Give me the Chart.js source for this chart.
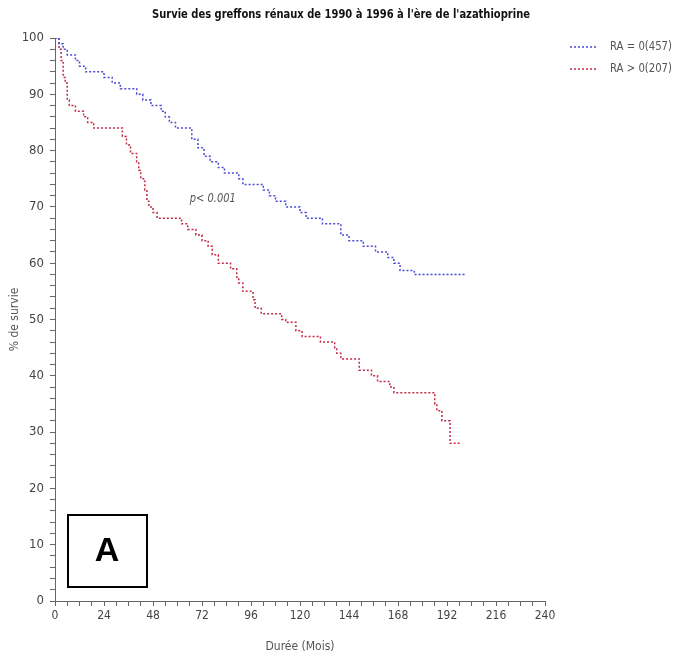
<!DOCTYPE html>
<html>
<head>
<meta charset="utf-8">
<script src="https://cdn.jsdelivr.net/npm/chart.js@4.4.1/dist/chart.umd.min.js"></script>
<style>
  body { margin: 0; background: #fff; }
  #wrap { width: 675px; height: 654px; }
</style>
</head>
<body>
<div id="wrap"><canvas id="survie"></canvas></div>
<script>
const titleText = "Survie des greffons rénaux de 1990 à 1996 à l'ère de l'azathioprine";
const seriesLabels = ['RA = 0(457)', 'RA > 0(207)'];
const seriesColors = ['#4b4bd6', '#c22a45'];

// RA = 0 : mois / % de survie (escalier)
const blueMonths = [0, 2, 4, 6, 10, 12, 15, 24, 28, 32, 40, 43, 47, 52, 54, 56, 59, 67, 70, 73, 76, 80, 83, 90, 92, 102, 105, 108, 113, 120, 123, 131, 140, 144, 151, 157, 163, 166, 169, 176, 201];
const blueSurvival = [100, 99, 98, 97, 96, 95, 94, 93, 92, 91, 90, 89, 88, 87, 86, 85, 84, 82, 80.5, 79, 78, 77, 76, 75, 74, 73, 72, 71, 70, 69, 68, 67, 65, 64, 63, 62, 61, 60, 58.7, 58, 58];

// RA > 0
const redMonths = [0, 2, 3, 4, 5, 6, 7, 10, 14, 16, 19, 33, 35, 37, 40, 41, 42, 44, 45, 46, 48, 50, 62, 65, 69, 72, 75, 77, 80, 86, 89, 90, 92, 97, 98, 101, 111, 113, 118, 121, 130, 137, 138, 140, 149, 155, 158, 164, 166, 186, 187, 189.5, 193.5, 199];
const redSurvival = [100, 98, 96, 93, 92, 89, 88, 87, 86, 85, 84, 82.5, 81, 79.5, 78, 76.5, 75, 73, 71, 70, 69, 68, 67, 66, 65, 64, 63, 61.5, 60, 59, 57.5, 56.5, 55, 53.5, 52, 51, 50, 49.5, 48, 47, 46, 45, 44, 43, 41, 40, 39, 38, 37, 35, 33.8, 32, 28, 28];

const xMajor = 24;
const yMajor = 10;

const narrow = "'Liberation Sans Narrow', 'DejaVu Sans Condensed', sans-serif";

function toPoints(xs, ys) {
  return xs.map((x, i) => ({ x: x, y: ys[i] }));
}

// titre, legende, p et encadre A (texte serre avec maxWidth pour imiter la police etroite)
const extras = {
  id: 'extras',
  afterDraw(chart) {
    const ctx = chart.ctx;
    const xs = chart.scales.x, ys = chart.scales.y;
    const area = chart.chartArea;
    ctx.save();
    ctx.textBaseline = 'middle';

    ctx.font = 'bold 13px ' + narrow;
    ctx.fillStyle = '#111';
    ctx.textAlign = 'center';
    ctx.fillText(titleText, 341, 15, 378);

    ctx.textAlign = 'left';
    ctx.font = '13px ' + narrow;
    seriesLabels.forEach((lab, i) => {
      const y = 47 + i * 22;
      ctx.strokeStyle = seriesColors[i];
      ctx.lineWidth = 1.5;
      ctx.setLineDash([2, 2]);
      ctx.beginPath();
      ctx.moveTo(570, y);
      ctx.lineTo(598, y);
      ctx.stroke();
      ctx.setLineDash([]);
      ctx.fillStyle = '#555';
      ctx.fillText(lab, 610, y, 62);
    });

    ctx.font = 'italic 12px ' + narrow;
    ctx.fillStyle = '#555';
    ctx.fillText('p< 0.001', xs.getPixelForValue(66), ys.getPixelForValue(71.5), 46);

    ctx.strokeStyle = '#000';
    ctx.lineWidth = 2;
    ctx.strokeRect(area.left + 13, area.bottom - 86, 79, 72);
    ctx.font = 'bold 34px Arial, "Liberation Sans", sans-serif';
    ctx.fillStyle = '#000';
    ctx.textAlign = 'center';
    ctx.fillText('A', area.left + 52, area.bottom - 49);
    ctx.restore();
  }
};

new Chart(document.getElementById('survie'), {
  type: 'line',
  data: {
    datasets: [
      {
        label: seriesLabels[0],
        data: toPoints(blueMonths, blueSurvival),
        borderColor: seriesColors[0],
        borderWidth: 1.5,
        borderDash: [2, 2],
        stepped: true,
        pointRadius: 0,
        fill: false
      },
      {
        label: seriesLabels[1],
        data: toPoints(redMonths, redSurvival),
        borderColor: seriesColors[1],
        borderWidth: 1.5,
        borderDash: [2, 2],
        stepped: true,
        pointRadius: 0,
        fill: false
      }
    ]
  },
  options: {
    responsive: true,
    maintainAspectRatio: false,
    animation: false,
    layout: { padding: { left: 0, right: 130, top: 38, bottom: 0 } },
    plugins: {
      legend: { display: false },
      tooltip: { enabled: false },
      title: { display: false }
    },
    scales: {
      x: {
        type: 'linear',
        min: 0,
        max: 240,
        afterFit: s => { s.height = 53; },
        border: { color: '#666', width: 1 },
        grid: { drawOnChartArea: false, color: '#666', tickLength: 5 },
        ticks: {
          stepSize: 6,
          autoSkip: false,
          maxRotation: 0,
          color: '#444',
          padding: 3,
          font: { family: narrow, size: 12 },
          callback: v => (v % xMajor === 0 ? v : '')
        },
        title: {
          display: true,
          text: 'Durée (Mois)',
          color: '#555',
          font: { family: narrow, size: 12 },
          padding: { top: 2, bottom: 0 }
        }
      },
      y: {
        min: 0,
        max: 100,
        afterFit: s => { s.width = 55; },
        border: { color: '#666', width: 1 },
        grid: { drawOnChartArea: false, color: '#666', tickLength: 5 },
        ticks: {
          stepSize: 2,
          autoSkip: false,
          color: '#444',
          padding: 6,
          font: { family: narrow, size: 13 },
          callback: v => (v % yMajor === 0 ? v : '')
        },
        title: {
          display: true,
          text: '% de survie',
          color: '#555',
          font: { family: narrow, size: 12 },
          padding: { top: 8, bottom: 4 }
        }
      }
    }
  },
  plugins: [extras]
});
</script>
</body>
</html>
